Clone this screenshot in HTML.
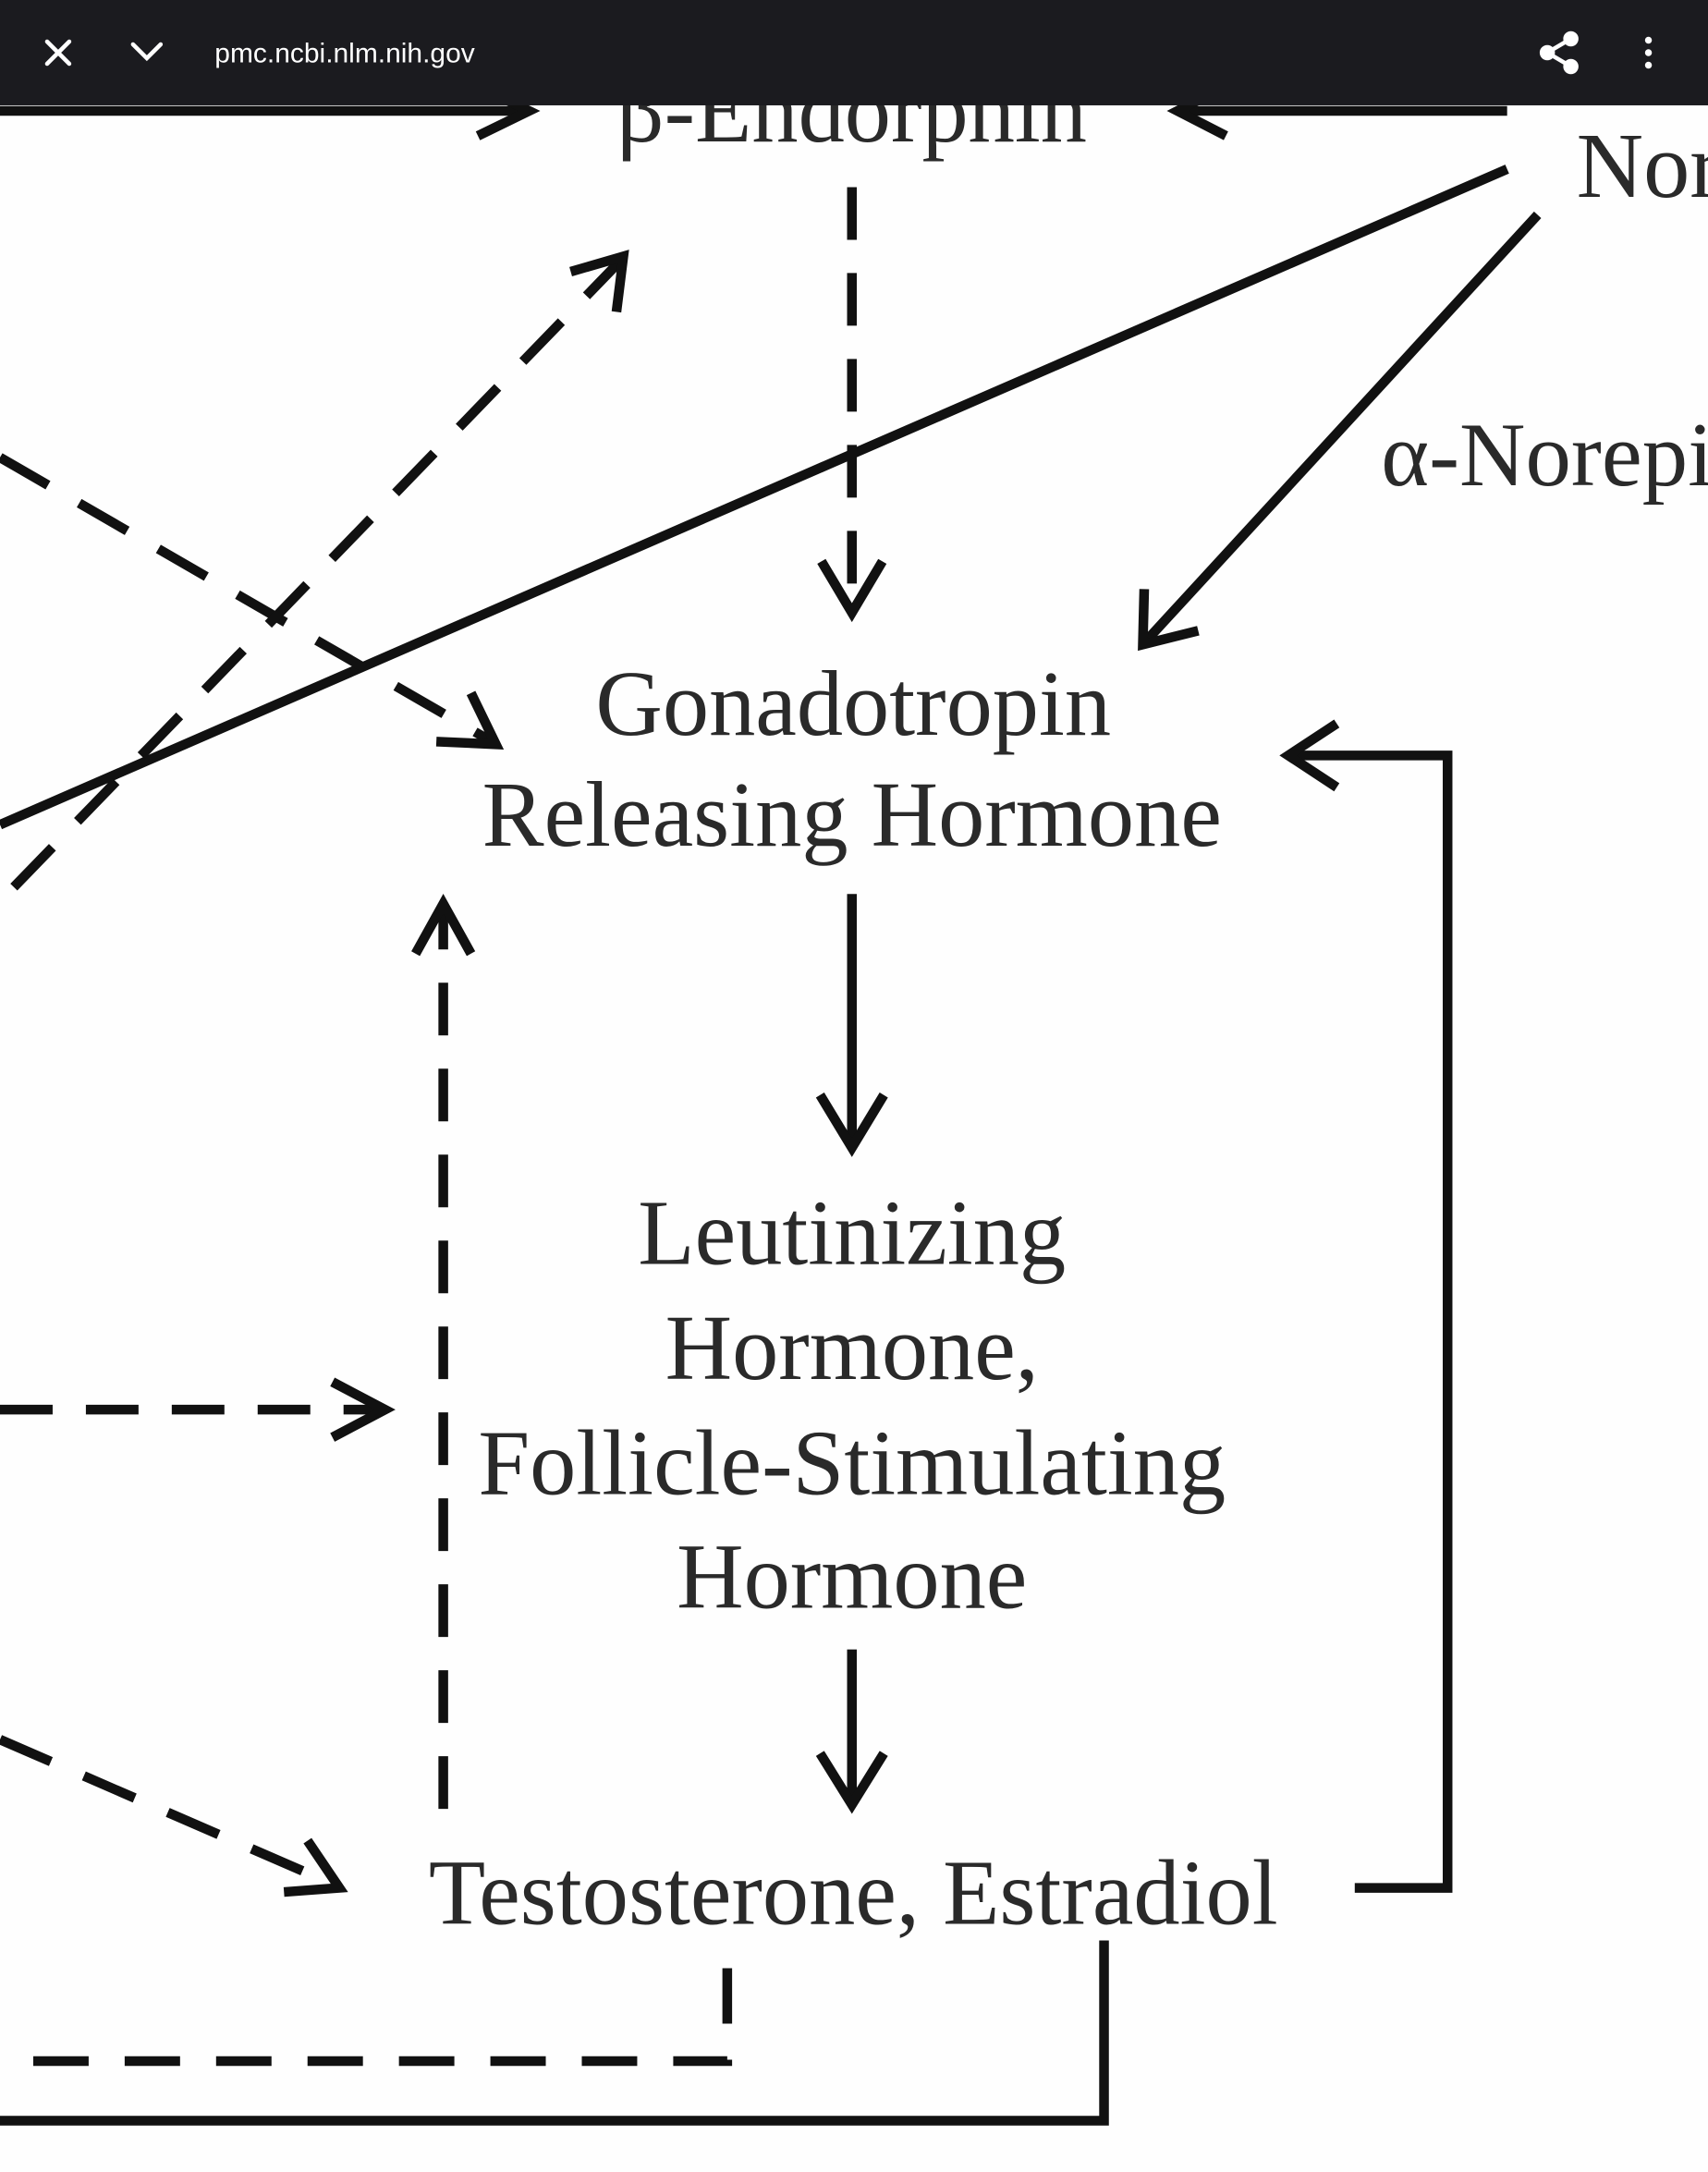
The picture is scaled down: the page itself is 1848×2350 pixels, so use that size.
<!DOCTYPE html>
<html><head><meta charset="utf-8"><style>
html,body{margin:0;padding:0;background:#fff;}
svg{display:block;}
</style></head><body>
<svg width="1848" height="2350" viewBox="0 0 1233 1567" preserveAspectRatio="none" xmlns="http://www.w3.org/2000/svg">
<rect width="1233" height="1567" fill="#fefefe"/>
<g font-family="'Liberation Serif',serif" fill="#2a2a2a" text-anchor="middle" font-size="67">
<text x="615" y="102">β-Endorphin</text>
<text x="1138" y="142" text-anchor="start">Nor</text>
<text x="997" y="350" text-anchor="start" font-size="66">α-Norepi</text>
<text x="616" y="530">Gonadotropin</text>
<text x="615" y="610">Releasing Hormone</text>
<text x="615" y="912">Leutinizing</text>
<text x="615" y="995">Hormone,</text>
<text x="615" y="1078">Follicle-Stimulating</text>
<text x="615" y="1160">Hormone</text>
<text x="616" y="1388">Testosterone, Estradiol</text>
</g>
<g stroke="#111" stroke-width="7" fill="none" stroke-linecap="butt">
<path d="M0 80 L380 80"/><path d="M345 62 L382 80 L345 98"/>
<path d="M1088 80 L850 80"/><path d="M885 62 L850 80 L885 98"/>
<path d="M615 135 L615 440" stroke-dasharray="38 24"/>
<path d="M593 405 L615 442 L637 405"/>
<path d="M1088 122 L0 595"/>
<path d="M1110 155 L825 465"/><path d="M826 425 L825 465 L865 455"/>
<path d="M0 330 L355 535" stroke-dasharray="40 26"/>
<path d="M315 535 L358 537 L340 500"/>
<path d="M10 640 L448 188" stroke-dasharray="40 26"/>
<path d="M412 196 L450 185 L445 225"/>
<path d="M978 1362 L1045 1362 L1045 545 L930 545"/>
<path d="M965 522 L930 545 L965 568"/>
<path d="M615 645 L615 825"/><path d="M592 790 L615 828 L638 790"/>
<path d="M320 1305 L320 655" stroke-dasharray="38 24"/>
<path d="M300 688 L320 652 L340 688"/>
<path d="M0 1017 L275 1017" stroke-dasharray="38 24"/>
<path d="M240 997 L278 1017 L240 1037"/>
<path d="M615 1190 L615 1300"/><path d="M592 1265 L615 1302 L638 1265"/>
<path d="M0 1255 L242 1360" stroke-dasharray="40 26"/>
<path d="M205 1365 L245 1362 L222 1328"/>
<path d="M525 1420 L525 1487 L0 1487" stroke-dasharray="40 26"/>
<path d="M797 1400 L797 1530 L0 1530"/>
</g>
<rect x="0" y="0" width="1233" height="76" fill="#1b1b1f"/>
<g stroke="#fff" stroke-width="3" fill="none" stroke-linecap="round">
<path d="M34 30 L50 46 M50 30 L34 46"/>
<path d="M96 32 L106 42 L116 32"/>
<circle cx="1134" cy="28" r="4" fill="#fff"/><circle cx="1117" cy="38" r="4" fill="#fff"/><circle cx="1134" cy="48" r="4" fill="#fff"/>
<path d="M1117 38 L1134 28 M1117 38 L1134 48"/>
</g>
<g fill="#fff"><circle cx="1190" cy="29" r="2.5"/><circle cx="1190" cy="38" r="2.5"/><circle cx="1190" cy="47" r="2.5"/></g>
<text x="155" y="45" fill="#fff" font-family="'Liberation Sans',sans-serif" font-size="20">pmc.ncbi.nlm.nih.gov</text>
</svg>
</body></html>
